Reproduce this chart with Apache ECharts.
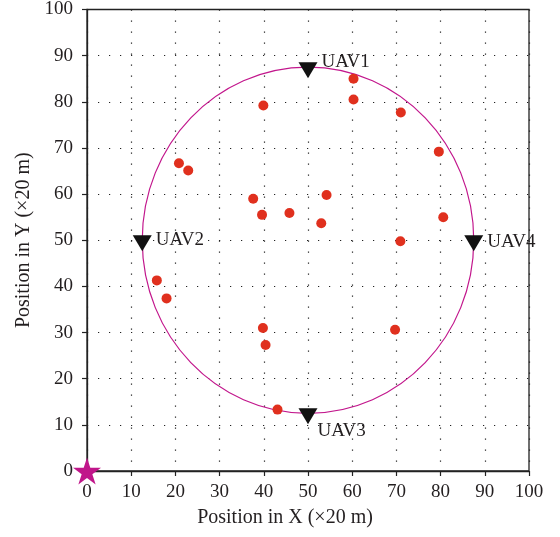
<!DOCTYPE html>
<html>
<head>
<meta charset="utf-8">
<script src="https://cdn.jsdelivr.net/npm/echarts@6/dist/echarts.min.js"></script>
<style>
  html, body { margin: 0; padding: 0; background: #fff; }
  #chart { width: 560px; height: 537px; }
</style>
</head>
<body>
<div id="chart"></div>
<script>
// Ground users (x, y) in units of 20 m
const userX = [39.9, 60.3, 60.3, 71.0, 20.8, 22.9, 79.6, 37.6, 54.2, 39.6, 45.8, 53.0, 80.6, 70.9, 15.8, 18.0, 39.8, 40.4, 69.7, 43.1];
const userY = [79.2, 85.0, 80.5, 77.7, 66.7, 65.1, 69.2, 59.0, 59.8, 55.5, 55.9, 53.7, 55.0, 49.8, 41.3, 37.4, 31.0, 27.3, 30.6, 13.3];

// UAV positions on the flight circle
const uavNames = ['UAV1', 'UAV2', 'UAV3', 'UAV4'];
const uavX = [50, 12.5, 50, 87.5];
const uavY = [87.5, 50, 12.5, 50];

// Flight circle: centre and radius
const circleCenter = [50, 50];
const circleRadius = 37.5;

// Base station
const baseStation = [0, 0];

// Axis ticks
const axisMin = 0, axisMax = 100, axisStep = 10;

const FONT = 'Liberation Serif';
const TEXT = '#231f20';
const STAR = 'path://M50,0 L61.2,34.5 L97.6,34.5 L68.2,55.9 L79.4,90.5 L50,69.1 L20.6,90.5 L31.8,55.9 L2.4,34.5 L38.8,34.5 Z';
const DOWN_TRI = 'path://M0,0 L20,0 L10,17 Z';

// label placement for each UAV tag
const uavLabelOffset = { UAV1: [0, -8], UAV2: [0, -3], UAV3: [-4, 15], UAV4: [0, -1] };

const users = userX.map((x, i) => [x, userY[i]]);
const uavs = uavNames.map((n, i) => ({
  name: n,
  value: [uavX[i], uavY[i]],
  label: { offset: uavLabelOffset[n] }
}));

function axisCommon(name) {
  return {
    type: 'value', min: axisMin, max: axisMax, interval: axisStep,
    name: name, nameLocation: 'middle',
    nameTextStyle: { fontFamily: FONT, fontSize: 20, color: TEXT },
    axisLine: { show: true, lineStyle: { color: '#222', width: 1.3 } },
    axisTick: { show: true, inside: false, length: 5, lineStyle: { color: '#222', width: 1.2 } },
    axisLabel: { fontFamily: FONT, fontSize: 19, color: TEXT },
    splitLine: { show: true, lineStyle: { color: '#222', width: 1.2, type: [1.2, 9.8] } }
  };
}

const xAxis = axisCommon('Position in X (\u00d720 m)');
xAxis.nameGap = 37;
xAxis.nameTextStyle.padding = [0, 46, 0, 0];
xAxis.axisLabel.margin = 12;

const yAxis = axisCommon('Position in Y (\u00d720 m)');
yAxis.nameGap = 53;
yAxis.axisLabel.margin = 14;

const chart = echarts.init(document.getElementById('chart'), null, { renderer: 'canvas' });
chart.setOption({
  animation: false,
  backgroundColor: '#fff',
  grid: { left: 87, right: 31, top: 7, bottom: 66, show: true, borderColor: '#222', borderWidth: 1.3, backgroundColor: 'transparent' },
  xAxis: xAxis,
  yAxis: yAxis,
  series: [
    {
      type: 'custom',
      name: 'circle',
      data: [[circleCenter[0], circleCenter[1], circleRadius]],
      clip: false,
      z: 1,
      renderItem: function (params, api) {
        const c = api.coord([api.value(0), api.value(1)]);
        const s = api.size([api.value(2), api.value(2)]);
        return {
          type: 'ellipse',
          shape: { cx: c[0], cy: c[1], rx: s[0], ry: s[1] },
          style: { fill: null, stroke: '#c2168c', lineWidth: 1.2 }
        };
      }
    },
    {
      type: 'scatter', name: 'users', data: users, z: 3,
      symbol: 'circle', symbolSize: 10,
      itemStyle: { color: '#e0301e', opacity: 1 }
    },
    {
      type: 'scatter', name: 'UAVs', data: uavs, z: 4, clip: false,
      symbol: DOWN_TRI, symbolSize: [19, 16], symbolOffset: [0, 3],
      itemStyle: { color: '#111', opacity: 1 },
      label: {
        show: true, position: 'right', distance: 4,
        formatter: '{b}', fontFamily: FONT, fontSize: 19, color: TEXT, opacity: 1
      }
    },
    {
      type: 'scatter', name: 'base', data: [baseStation], z: 5, clip: false,
      symbol: STAR, symbolSize: [28, 27],
      itemStyle: { color: '#c0168a', opacity: 1 }
    }
  ]
});
</script>
</body>
</html>
